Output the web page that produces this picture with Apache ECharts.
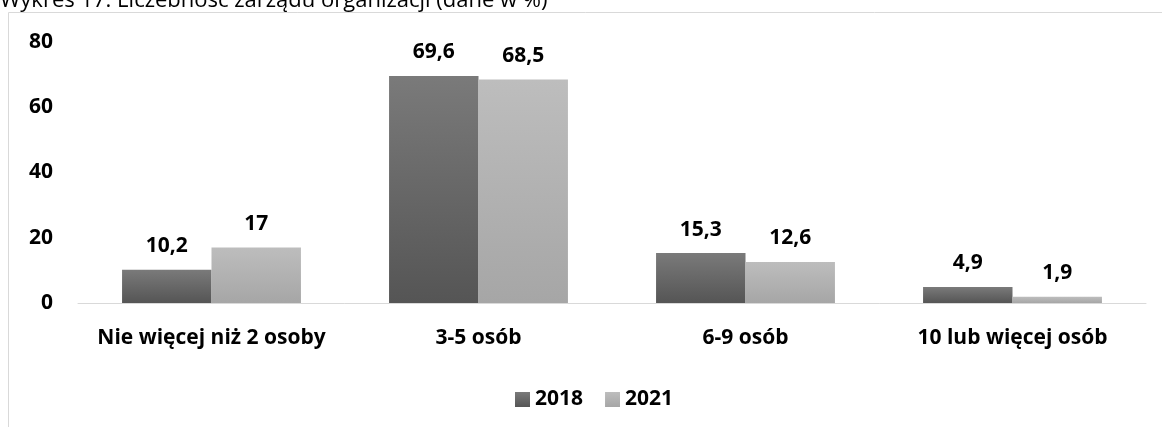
<!DOCTYPE html>
<html>
<head>
<meta charset="utf-8">
<script src="https://cdn.jsdelivr.net/npm/echarts@6/dist/echarts.min.js"></script>
<style>
  html,body{margin:0;padding:0;background:#fff;}
  #main{width:1162px;height:427px;}
</style>
</head>
<body>
<div id="main"></div>
<script>
// dane w %
const categories = ['Nie więcej niż 2 osoby', '3-5 osób', '6-9 osób', '10 lub więcej osób'];
const values2018 = [10.2, 69.6, 15.3, 4.9];
const values2021 = [17, 68.5, 12.6, 1.9];
const seriesNames = ['2018', '2021'];

const font = '"Open Sans", sans-serif';

function grad(top, bottom){
  return new echarts.graphic.LinearGradient(0, 0, 0, 1, [
    { offset: 0, color: top },
    { offset: 1, color: bottom }
  ]);
}

function fmt(p){
  return String(p.value).replace('.', ',');
}

const chart = echarts.init(document.getElementById('main'));
const option = {
  animation: false,
  textStyle: { fontFamily: font },
  graphic: [
    {
      type: 'rect',
      shape: { x: 8.5, y: 12.5, width: 1170, height: 440 },
      style: { fill: 'none', stroke: '#d9d9d9', lineWidth: 1 },
      z: -1
    },
    {
      type: 'text',
      left: 0,
      top: -10,
      style: {
        text: 'Wykres 17. Liczebność zarządu organizacji (dane w %)',
        font: '22px ' + font,
        fill: '#000'
      }
    }
  ],
  legend: {
    data: seriesNames,
    top: 384,
    left: 510,
    itemWidth: 15,
    itemHeight: 15,
    itemGap: 22,
    icon: 'rect',
    textStyle: { fontSize: 21, fontWeight: 'bold', color: '#000', fontFamily: font }
  },
  grid: { left: 78, right: 16, top: 42, bottom: 124 },
  xAxis: {
    type: 'category',
    data: categories,
    axisLine: { lineStyle: { color: '#d9d9d9', width: 1 } },
    axisTick: { show: false },
    axisLabel: { interval: 0, fontSize: 21, fontWeight: 'bold', color: '#000', margin: 25, fontFamily: font }
  },
  yAxis: {
    type: 'value',
    min: 0,
    max: 80,
    interval: 20,
    splitLine: { show: false },
    axisLine: { show: false },
    axisTick: { show: false },
    axisLabel: { fontSize: 21, fontWeight: 'bold', color: '#000', margin: 25, fontFamily: font }
  },
  series: [
    {
      name: seriesNames[0],
      type: 'bar',
      data: values2018,
      barGap: '0%',
      barCategoryGap: '33%',
      itemStyle: { color: grad('#7a7a7a', '#555555') },
      label: {
        show: true, position: 'top', distance: 13, formatter: fmt,
        fontSize: 21, fontWeight: 'bold', color: '#000', fontFamily: font
      }
    },
    {
      name: seriesNames[1],
      type: 'bar',
      data: values2021,
      itemStyle: { color: grad('#bdbdbd', '#a6a6a6') },
      label: {
        show: true, position: 'top', distance: 13, formatter: fmt,
        fontSize: 21, fontWeight: 'bold', color: '#000', fontFamily: font
      }
    }
  ]
};
chart.setOption(option);
</script>
</body>
</html>
